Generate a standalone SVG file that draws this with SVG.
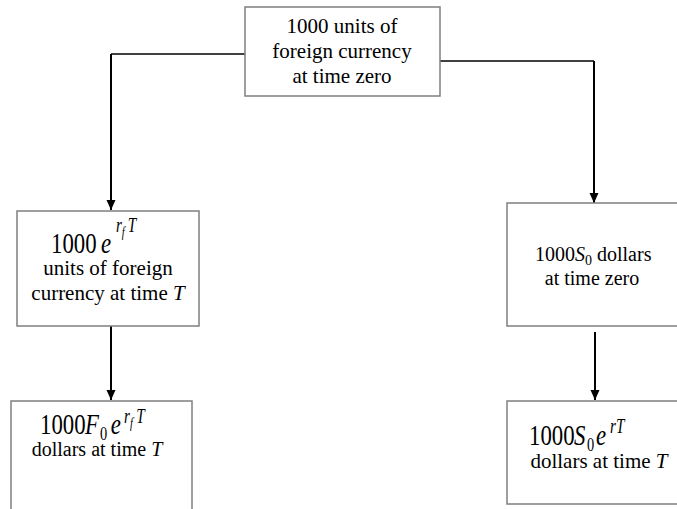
<svg xmlns="http://www.w3.org/2000/svg" width="677" height="509" viewBox="0 0 677 509">
<defs>
<style>
.box{fill:#fff;stroke:#7f7f7f;stroke-width:1.5}
.t{font-family:"Liberation Serif","Times New Roman",serif;fill:#000}
.n{font-size:21px}
.n20{font-size:20px}
.big{font-size:30px}
.sup{font-size:20px}
.sub{font-size:14px}
.s0{font-size:19px}
.m{text-anchor:middle}
.i{font-style:italic}
.c{fill:none;stroke:#000;stroke-width:2}
.h{fill:none;stroke:#000;stroke-width:1.5}
</style>
<marker id="ah" markerUnits="userSpaceOnUse" markerWidth="10" markerHeight="10" viewBox="0 0 10 10" refX="10" refY="5" orient="auto">
<path d="M0,0.5 L10,5 L0,9.5 Z" fill="#000"/>
</marker>
</defs>
<rect width="677" height="509" fill="#fff"/>
<g id="connectors">
<path class="h" d="M245,54 H111"/>
<path class="c" d="M111,54 V210" marker-end="url(#ah)"/>
<path class="h" d="M440,61 H594"/>
<path class="c" d="M594,61 V203" marker-end="url(#ah)"/>
<path class="c" d="M111,326 V400" marker-end="url(#ah)"/>
<path class="c" d="M595,332 V400" marker-end="url(#ah)"/>
</g>
<g id="top">
<rect class="box" x="245" y="7" width="195" height="89"/>
<text class="t n m" x="342" y="33">1000 units of</text>
<text class="t n m" x="342" y="58">foreign currency</text>
<text class="t n m" x="342" y="83">at time zero</text>
</g>
<g id="left-mid">
<rect class="box" x="17" y="211" width="182" height="115"/>
<text class="t big" transform="translate(51,253) scale(0.76,1)"><tspan x="0" y="0">1000</tspan><tspan class="i" x="65.8" y="0">e</tspan><tspan class="i sup" x="85.5" y="-21">r</tspan><tspan class="i sub" x="93" y="-16">f</tspan><tspan class="i sup" x="101" y="-21">T</tspan></text>
<text class="t n m" x="108" y="275">units of foreign</text>
<text class="t n m" x="108" y="300">currency at time <tspan class="i">T</tspan></text>
</g>
<g id="right-mid">
<rect class="box" x="507" y="203" width="172" height="123"/>
<text class="t n20" x="535" y="261">1000<tspan class="i">S</tspan><tspan class="sub" dy="4">0</tspan><tspan dy="-4"> dollars</tspan></text>
<text class="t n20 m" x="592" y="285">at time zero</text>
</g>
<g id="left-bot">
<rect class="box" x="11" y="401" width="181" height="112"/>
<text class="t big" transform="translate(40,434) scale(0.76,1)"><tspan x="0" y="0">1000</tspan><tspan class="i" x="59.2" y="0">F</tspan><tspan class="s0" x="79" y="6">0</tspan><tspan class="i" x="93" y="0">e</tspan><tspan class="i sup" x="110.5" y="-11">r</tspan><tspan class="i sub" x="118.5" y="-6">f</tspan><tspan class="i sup" x="126.5" y="-11">T</tspan></text>
<text class="t n20 m" x="97" y="456">dollars at time <tspan class="i">T</tspan></text>
</g>
<g id="right-bot">
<rect class="box" x="507" y="401" width="172" height="103"/>
<text class="t big" transform="translate(529,445) scale(0.76,1)"><tspan x="0" y="0">1000</tspan><tspan class="i" x="59.2" y="0">S</tspan><tspan class="s0" x="76.3" y="6">0</tspan><tspan class="i" x="88.2" y="0">e</tspan><tspan class="i sup" x="106.6" y="-12">r</tspan><tspan class="i sup" x="114.5" y="-12">T</tspan></text>
<text class="t n m" x="599" y="468">dollars at time <tspan class="i">T</tspan></text>
</g>
</svg>
